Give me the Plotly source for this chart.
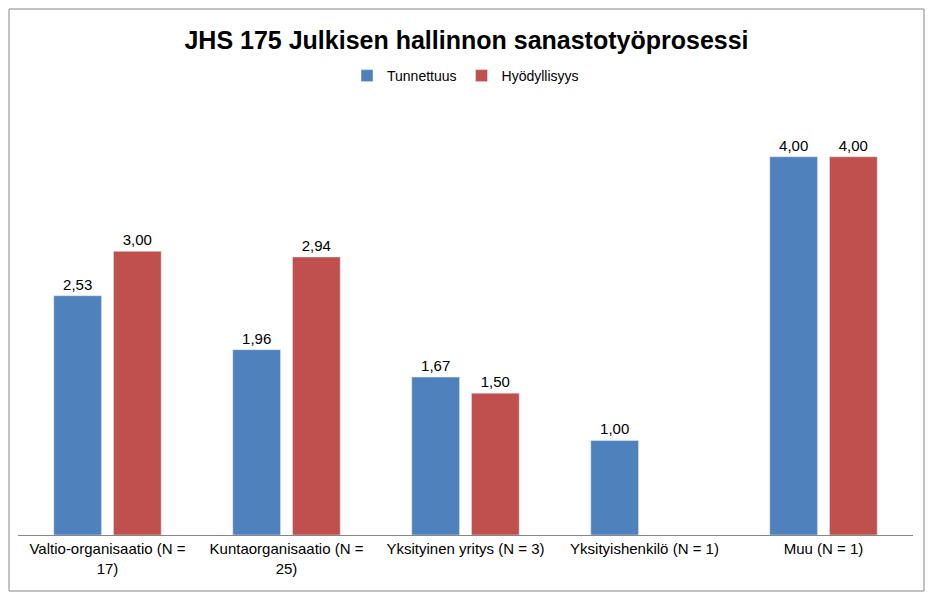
import plotly.graph_objects as go

categories = ["Valtio-organisaatio (N =<br>17)", "Kuntaorganisaatio (N =<br>25)",
              "Yksityinen yritys (N = 3)", "Yksityishenkilö (N = 1)", "Muu (N = 1)"]
tunnettuus = [2.53, 1.96, 1.67, 1.00, 4.00]
hyodyllisyys = [3.00, 2.94, 1.50, None, 4.00]

def fmt(vals):
    return ["" if v is None else f"{v:.2f}".replace(".", ",") for v in vals]

# the page adds an 8px body margin, so keep the figure inside the window
W, H = 917, 584
ml, mr, mt, mb = 10, 12, 92, 57
pw, ph = W - ml - mr, H - mt - mb

fig = go.Figure()
fig.add_bar(x=categories, y=tunnettuus, name="Tunnettuus", marker_color="#4F81BD",
            text=fmt(tunnettuus), textposition="outside", cliponaxis=False)
fig.add_bar(x=categories, y=hyodyllisyys, name="Hyödyllisyys", marker_color="#C0504D",
            text=fmt(hyodyllisyys), textposition="outside", cliponaxis=False)

fig.update_traces(textfont=dict(size=15, color="#000000"))
fig.update_layout(
    width=W, height=H,
    margin=dict(l=ml, r=mr, t=mt, b=mb),
    font=dict(family="Liberation Sans, Arial", size=15, color="#000000"),
    title=dict(text="<b>JHS 175 Julkisen hallinnon sanastotyöprosessi</b>",
               font=dict(size=25), x=0.5, xanchor="center", y=1 - 32 / H, yanchor="middle"),
    legend=dict(orientation="h", x=0.5, xanchor="center", y=1 + 24 / ph, yanchor="middle",
                font=dict(size=14)),
    barmode="group", bargap=0.333, bargroupgap=0.2,
    paper_bgcolor="#FFFFFF", plot_bgcolor="#FFFFFF",
    xaxis=dict(showline=True, linecolor="#868686", ticks="", tickfont=dict(size=15)),
    yaxis=dict(visible=False, range=[0, 4.6]),
    shapes=[dict(type="rect", xref="paper", yref="paper",
                 x0=-(ml - 1) / pw, x1=1 + (mr - 1) / pw,
                 y0=-(mb - 1) / ph, y1=1 + (mt - 1) / ph,
                 line=dict(color="#868686", width=1))],
)
fig.write_html("out.html")
